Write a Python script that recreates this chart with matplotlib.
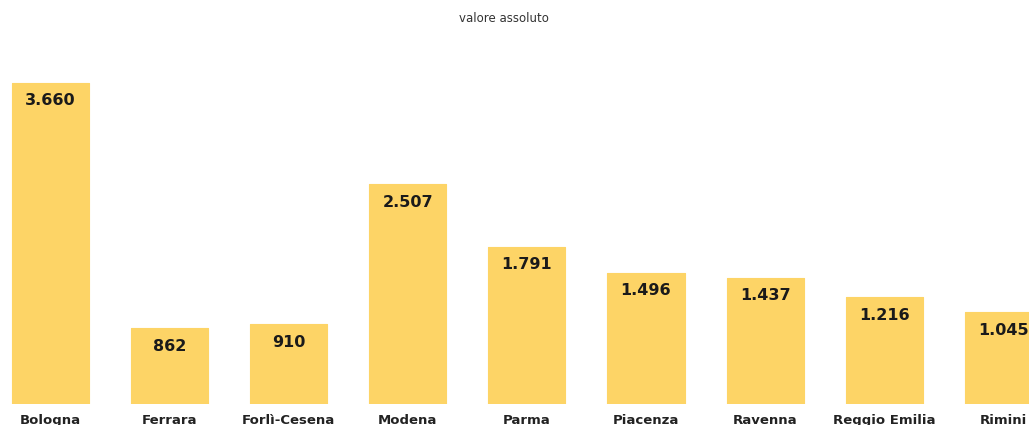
import matplotlib
matplotlib.use('Agg')
import matplotlib.pyplot as plt
import numpy as np

# Province e valori assoluti
province = ['Bologna', 'Ferrara', 'Forlì-Cesena', 'Modena', 'Parma',
            'Piacenza', 'Ravenna', 'Reggio Emilia', 'Rimini']
valori = [3660, 862, 910, 2507, 1791, 1496, 1437, 1216, 1045]

bar_color = '#FDD466'

fig = plt.figure(figsize=(10.29, 4.25), dpi=100)
# axes spans the full width; last bar runs past the right edge
ax = fig.add_axes([0, 21 / 425, 1, 364 / 425])

x = np.arange(len(province))
ax.bar(x, valori, width=0.647, color=bar_color, edgecolor=bar_color,
       linewidth=0.8, joinstyle='round')

ax.set_xlim(-0.424, 8.216)
ax.set_ylim(0, 4150)

# etichette dei valori dentro le barre, separatore migliaia all'italiana
for xi, v in zip(x, valori):
    lab = f'{v:,}'.replace(',', '.')
    ax.annotate(lab, (xi, v), xytext=(0, -18), textcoords='offset pixels',
                ha='center', va='center', fontsize=11.5, fontweight='bold',
                color='#1a1a1a')

# nomi delle province sotto le barre (tagliati dal bordo inferiore)
for xi, name in zip(x, province):
    ax.annotate(name, (xi, 0), xytext=(0, -10), textcoords='offset pixels',
                ha='center', va='top', fontsize=9.5, fontweight='bold',
                color='#222222', annotation_clip=False)

for s in ax.spines.values():
    s.set_visible(False)
ax.set_xticks([])
ax.set_yticks([])

fig.text(504 / 1029, 1 - 18 / 425, 'valore assoluto', ha='center', va='center',
         fontsize=8.5, color='#333333')

fig.savefig('out.png', dpi=100)
